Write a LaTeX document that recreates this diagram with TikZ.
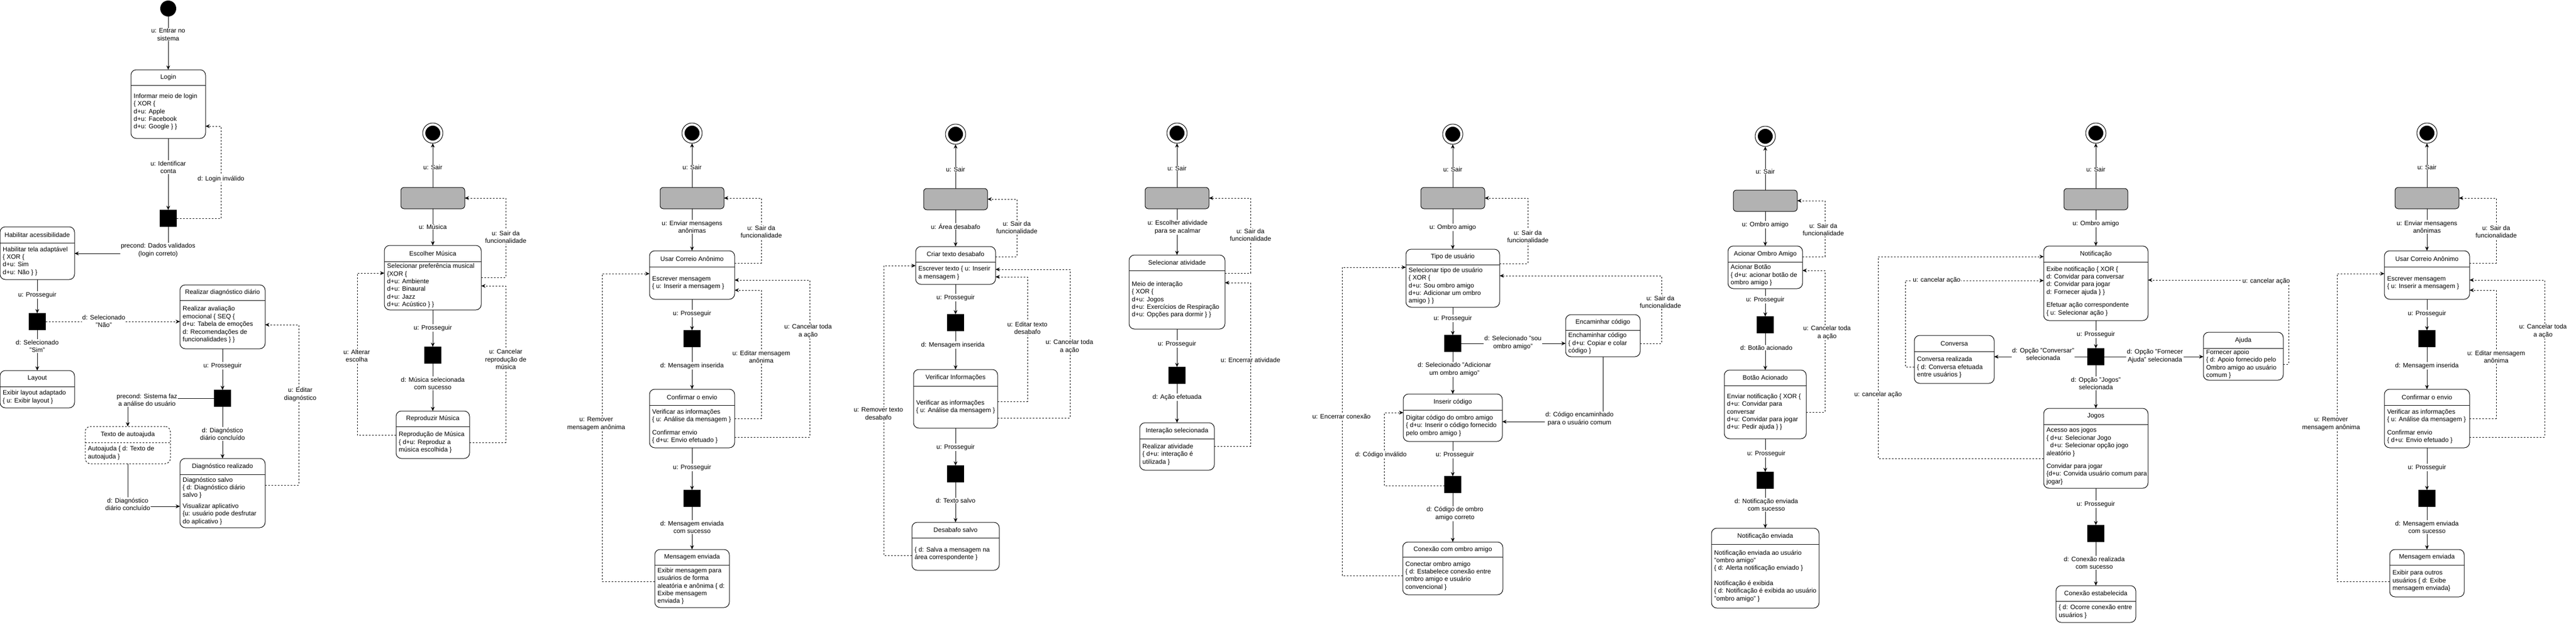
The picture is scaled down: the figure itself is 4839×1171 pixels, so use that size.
\documentclass[tikz,border=0pt]{standalone}
\usepackage{fontspec}
\setmainfont{Liberation Sans}
\usetikzlibrary{arrows.meta}

\tikzset{
  estado/.style={draw, rounded corners=10pt, line width=1pt, inner sep=0pt, outer sep=0pt},
  titulo/.style={font=\fontsize{12}{14.4}\selectfont, inner sep=0pt},
  corpo/.style={font=\fontsize{12}{14.4}\selectfont, align=left, inner sep=0pt, anchor=west},
  menu/.style={draw, fill=black!30, rounded corners=6pt, line width=1pt, minimum width=120, minimum height=40, outer sep=0pt},
  decisao/.style={draw, fill=black, minimum size=31, inner sep=0pt, outer sep=0pt},
  inicio/.style={circle, fill=black, minimum size=30, inner sep=0pt, outer sep=0pt},
  fim/.style={circle, draw, line width=1pt, minimum size=38, inner sep=0pt, outer sep=0pt,
    path picture={\fill[black] (path picture bounding box.center) circle (14pt);}},
  seta/.style={line width=1pt, -{Stealth[length=8pt, width=7pt]}},
  tracejada/.style={seta, dash pattern=on 3pt off 3pt},
  lbl/.style={fill=white, font=\fontsize{12}{14.4}\selectfont, align=center, inner sep=1pt}
}

%% caixa de estado: [opcoes]{nome}{x1}{y1}{x2}{y2}{y divisoria}{titulo}{corpo}
\newcommand{\estado}[9][]{%
  \node[estado, #1, anchor=north west, minimum width={(#5)-(#3)}, minimum height={(#6)-(#4)}] (#2) at (#3,#4) {};
  \draw[line width=1pt, #1] (#3,#7) -- (#5,#7);
  \node[titulo] (#2-t) at ({((#3)+(#5))/2},{((#4)+(#7))/2}) {#8};
  \node[corpo] (#2-c) at ({(#3)+5},{((#7)+(#6))/2}) {#9};
}

\begin{document}
\begin{tikzpicture}[x=1pt, y=-1pt]
\useasboundingbox (0,0) rectangle (4839,1171);

%% Login
\node[inicio] (inicio) at (316,16) {};
\estado{login}{246}{131}{386}{260}{160}{Login}{Informar meio de login\\\{ XOR \{\\d+u: Apple\\d+u: Facebook\\d+u: Google \} \}}
\node[decisao] (decLogin) at (316,410) {};
\estado{acess}{0}{426}{140}{525}{456}{Habilitar acessibilidade}{Habilitar tela adaptável\\\{ XOR \{\\d+u: Sim\\d+u: Não \} \}}
\node[decisao] (decAcess) at (70,604) {};
\estado{layout}{0}{696}{140}{766}{726}{Layout}{Exibir layout adaptado\\\{ u: Exibir layout \}}
\estado{diag}{338}{535}{498}{655}{564}{Realizar diagnóstico diário}{Realizar avaliação\\emocional \{ SEQ \{\\d+u: Tabela de emoções\\d: Recomendações de\\funcionalidades \} \}}
\node[decisao] (decDiag) at (418,748) {};
\estado[dashed]{autoajuda}{160}{801}{320}{871}{831}{Texto de autoajuda}{Autoajuda \{ d: Texto de\\autoajuda \}}
\estado{diagFeito}{338}{861}{498}{991}{891}{Diagnóstico realizado}{Diagnóstico salvo\\\{ d: Diagnóstico diário\\salvo \}\\[6pt]Visualizar aplicativo\\\{u: usuário pode desfrutar\\do aplicativo \}}

\draw[seta] (inicio) -- (login) node[lbl] at (316,65) {u: Entrar no\\sistema};
\draw[seta] (login) -- (decLogin) node[lbl] at (316,314) {u: Identificar\\conta};
\draw[tracejada] (decLogin.east) -| (415,237) -- (login.east |- 0,237) node[lbl] at (415,336) {d: Login inválido};
\draw[seta] (decLogin.south) |- (acess.east |- 0,476) node[lbl] at (297,470) {precond: Dados validados\\(login correto)};
\draw[seta] (acess) -- (decAcess) node[lbl] at (70,554) {u: Prosseguir};
\draw[seta] (decAcess) -- (layout) node[lbl] at (70,650) {d: Selecionado\\"Sim"};
\draw[tracejada] (decAcess) -- (diag.west |- decAcess) node[lbl] at (195,603) {d: Selecionado\\"Não"};
\draw[seta] (diag) -- (decDiag) node[lbl] at (418,687) {u: Prosseguir};
\draw[seta] (decDiag.west) -| (autoajuda.north) node[lbl] at (276,751) {precond: Sistema faz\\a análise do usuário};
\draw[seta] (decDiag) -- (diagFeito) node[lbl] at (418,815) {d: Diagnóstico\\diário concluído};
\draw[seta] (autoajuda.south) |- (diagFeito.west |- 0,951) node[lbl] at (240,947) {d: Diagnóstico\\diário concluído};
\draw[tracejada] (diagFeito.east |- 0,911) -| (561,610) -- (diag.east |- 0,610) node[lbl] at (564,741) {u: Editar\\diagnóstico};

%% Musica
\node[fim] (musFim) at (813,250) {};
\node[menu] (musMenu) at (813,372) {};
\estado{musEsc}{722}{461}{904}{582}{491}{Escolher Música}{Selecionar preferência musical\\\{XOR \{\\d+u: Ambiente\\d+u: Binaural\\d+u: Jazz\\d+u: Acústico \} \}}
\node[decisao] (musDec) at (813,667) {};
\estado{musRep}{744}{772}{882}{861}{801}{Reproduzir Música}{Reprodução de Música\\\{ d+u: Reproduz a\\música escolhida \}}

\draw[seta] (musMenu) -- (musFim) node[lbl] at (813,314) {u: Sair};
\draw[seta] (musMenu) -- (musEsc) node[lbl] at (813,426) {u: Música};
\draw[tracejada] (musEsc.east |- 0,521) -| (950,372) -- (musMenu.east) node[lbl] at (950,445) {u: Sair da\\funcionalidade};
\draw[seta] (musEsc) -- (musDec) node[lbl] at (813,616) {u: Prosseguir};
\draw[seta] (musDec) -- (musRep) node[lbl] at (813,720) {d: Música selecionada\\com sucesso};
\draw[tracejada] (musRep.west |- 0,817) -| (671,513) -- (musEsc.west |- 0,513) node[lbl] at (670,668) {u: Alterar\\escolha};
\draw[tracejada] (musRep.east |- 0,831) -| (950,537) -- (musEsc.east |- 0,537) node[lbl] at (950,675) {u: Cancelar\\reprodução de\\música};

%% Correio anonimo (duas vezes)
\foreach \dx/\p/\yb/\txt in {0/cA/1141/{Exibir mensagem para\\usuários de forma\\aleatória e anônima \{ d:\\Exibe mensagem\\enviada \}},
                              3259/cB/1121/{Exibir para outros\\usuários \{ d: Exibe\\mensagem enviada\}}}{
\begin{scope}[xshift=\dx]
\node[fim] (\p-fim) at (1300,250) {};
\node[menu] (\p-menu) at (1300,372) {};
\estado{\p-usar}{1220}{471}{1380}{562}{501}{Usar Correio Anônimo}{Escrever mensagem\\\{ u: Inserir a mensagem \}}
\node[decisao] (\p-dec1) at (1300,636) {};
\estado{\p-conf}{1220}{731}{1380}{841}{761}{Confirmar o envio}{Verificar as informações\\\{ u: Análise da mensagem \}\\[10pt]Confirmar envio\\\{ d+u: Envio efetuado \}}
\node[decisao] (\p-dec2) at (1300,936) {};
\estado{\p-env}{1230}{1032}{1370}{\yb}{1061}{Mensagem enviada}{\txt}

\draw[seta] (\p-menu) -- (\p-fim) node[lbl] at (1300,314) {u: Sair};
\draw[seta] (\p-menu) -- (\p-usar) node[lbl] at (1300,426) {u: Enviar mensagens\\anônimas};
\draw[tracejada] (\p-usar.east |- 0,494) -| (1430,372) -- (\p-menu.east) node[lbl] at (1430,435) {u: Sair da\\funcionalidade};
\draw[seta] (\p-usar) -- (\p-dec1) node[lbl] at (1300,589) {u: Prosseguir};
\draw[seta] (\p-dec1) -- (\p-conf) node[lbl] at (1300,687) {d: Mensagem inserida};
\draw[tracejada] (\p-conf.east |- 0,786) -| (1430,545) -- (\p-usar.east |- 0,545) node[lbl] at (1430,670) {u: Editar mensagem\\anônima};
\draw[tracejada] (\p-conf.east |- 0,821) -| (1521,526) -- (\p-usar.east |- 0,526) node[lbl] at (1518,622) {u: Cancelar toda\\a ação};
\draw[seta] (\p-conf) -- (\p-dec2) node[lbl] at (1300,878) {u: Prosseguir};
\draw[seta] (\p-dec2) -- (\p-env) node[lbl] at (1300,990) {d: Mensagem enviada\\com sucesso};
\draw[tracejada] (\p-env.west |- 0,1092) -| (1131,514) -- (\p-usar.west |- 0,514) node[lbl] at (1120,796) {u: Remover\\mensagem anônima};
\end{scope}}

%% Desabafo
\node[fim] (desFim) at (1795,252) {};
\node[menu] (desMenu) at (1795,374) {};
\estado{desCriar}{1720}{463}{1870}{534}{492}{Criar texto desabafo}{Escrever texto \{ u: Inserir\\a mensagem \}}
\node[decisao] (desDec1) at (1795,606) {};
\estado{desVer}{1716}{694}{1874}{804}{725}{Verificar Informações}{Verificar as informações\\\{ u: Análise da mensagem \}}
\node[decisao] (desDec2) at (1795,890) {};
\estado{desSalvo}{1713}{981}{1877}{1071}{1010}{Desabafo salvo}{\{ d: Salva a mensagem na\\área correspondente \}}

\draw[seta] (desMenu) -- (desFim) node[lbl] at (1795,318) {u: Sair};
\draw[seta] (desMenu) -- (desCriar) node[lbl] at (1795,425) {u: Área desabafo};
\draw[tracejada] (desCriar.east |- 0,482) -| (1910,374) -- (desMenu.east) node[lbl] at (1910,427) {u: Sair da\\funcionalidade};
\draw[seta] (desCriar) -- (desDec1) node[lbl] at (1795,559) {u: Prosseguir};
\draw[seta] (desDec1) -- (desVer) node[lbl] at (1790,648) {d: Mensagem inserida};
\draw[tracejada] (desVer.east |- 0,754) -| (1930,520) -- (desCriar.east |- 0,520) node[lbl] at (1930,616) {u: Editar texto\\desabafo};
\draw[tracejada] (desVer.east |- 0,785) -| (2010,506) -- (desCriar.east |- 0,506) node[lbl] at (2009,651) {u: Cancelar toda\\a ação};
\draw[seta] (desVer) -- (desDec2) node[lbl] at (1795,840) {u: Prosseguir};
\draw[seta] (desDec2) -- (desSalvo) node[lbl] at (1795,940) {d: Texto salvo};
\draw[tracejada] (desSalvo.west |- 0,1043) -| (1660,499) -- (desCriar.west |- 0,499) node[lbl] at (1650,777) {u: Remover texto\\desabafo};

%% Atividade
\node[fim] (atvFim) at (2211,250) {};
\node[menu] (atvMenu) at (2211,372) {};
\estado{atvSel}{2121}{479}{2301}{618}{508}{Selecionar atividade}{Meio de interação\\\{ XOR \{\\d+u: Jogos\\d+u: Exercícios de Respiração\\d+u: Opções para dormir \} \}}
\node[decisao] (atvDec) at (2211,705) {};
\estado{atvInt}{2141}{794}{2281}{883}{824}{Interação selecionada}{Realizar atividade\\\{ d+u: interação é\\utilizada \}}

\draw[seta] (atvMenu) -- (atvFim) node[lbl] at (2211,316) {u: Sair};
\draw[seta] (atvMenu) -- (atvSel) node[lbl] at (2212,427) {u: Escolher atividade\\para se acalmar};
\draw[tracejada] (atvSel.east |- 0,513) -| (2349,372) -- (atvMenu.east) node[lbl] at (2349,441) {u: Sair da\\funcionalidade};
\draw[seta] (atvSel) -- (atvDec) node[lbl] at (2211,646) {u: Prosseguir};
\draw[seta] (atvDec) -- (atvInt) node[lbl] at (2211,746) {d: Ação efetuada};
\draw[tracejada] (atvInt.east |- 0,838) -| (2349,531) -- (atvSel.east |- 0,531) node[lbl] at (2349,676) {u: Encerrar atividade};

%% Tipo de usuario
\node[fim] (tipoFim) at (2729,252) {};
\node[menu] (tipoMenu) at (2729,372) {};
\estado{tipoUsu}{2641}{468}{2817}{577}{497}{Tipo de usuário}{Selecionar tipo de usuário\\\{ XOR \{\\d+u: Sou ombro amigo\\d+u: Adicionar um ombro\\amigo \} \}}
\node[decisao] (tipoDec1) at (2729,645) {};
\estado{encCod}{2941}{591}{3081}{670}{620}{Encaminhar código}{Enchaminhar código\\\{ d+u: Copiar e colar\\código \}}
\estado{insCod}{2636}{740}{2822}{829}{770}{Inserir código}{Digitar código do ombro amigo\\\{ d+u: Inserir o código fornecido\\pelo ombro amigo \}}
\node[decisao] (tipoDec2) at (2729,910) {};
\estado{conOmb}{2635}{1018}{2823}{1117}{1046}{Conexão com ombro amigo}{Conectar ombro amigo\\\{ d: Estabelece conexão entre\\ombro amigo e usuário\\convencional \}}

\draw[seta] (tipoMenu) -- (tipoFim) node[lbl] at (2729,318) {u: Sair};
\draw[seta] (tipoMenu) -- (tipoUsu) node[lbl] at (2729,427) {u: Ombro amigo};
\draw[tracejada] (tipoUsu.east |- 0,495) -| (2870,372) -- (tipoMenu.east) node[lbl] at (2870,444) {u: Sair da\\funcionalidade};
\draw[seta] (tipoUsu) -- (tipoDec1) node[lbl] at (2729,598) {u: Prosseguir};
\draw[seta] (tipoDec1) -- (encCod.west |- tipoDec1) node[lbl] at (2842,644) {d: Selecionado "sou\\ombro amigo"};
\draw[tracejada] (encCod.east |- 0,645) -| (3121,518) -- (tipoUsu.east |- 0,518) node[lbl] at (3119,567) {u: Sair da\\funcionalidade};
\draw[seta] (tipoDec1) -- (insCod) node[lbl] at (2732,694) {d: Selecionado "Adicionar\\um ombro amigo"};
\draw[seta] (encCod.south) |- (insCod.east |- 0,792) node[lbl] at (2967,787) {d: Código encaminhado\\para o usuário comum};
\draw[seta] (insCod) -- (tipoDec2) node[lbl] at (2733,854) {u: Prosseguir};
\draw[tracejada] (tipoDec2.west |- 0,912) -| (2600,775) -- (insCod.west |- 0,775) node[lbl] at (2594,854) {d: Código inválido};
\draw[seta] (tipoDec2) -- (conOmb) node[lbl] at (2733,965) {d: Código de ombro\\amigo correto};
\draw[tracejada] (conOmb.west |- 0,1081) -| (2521,502) -- (tipoUsu.west |- 0,502) node[lbl] at (2520,782) {u: Encerrar conexão};

%% Acionar ombro amigo
\node[fim] (acoFim) at (3316,256) {};
\node[menu] (acoMenu) at (3316,377) {};
\estado{acoBox}{3246}{462}{3386}{542}{492}{Acionar Ombro Amigo}{Acionar Botão\\\{ d+u: acionar botão de\\ombro amigo \}}
\node[decisao] (acoDec1) at (3316,610) {};
\estado{acoBot}{3239}{695}{3393}{824}{724}{Botão Acionado}{Enviar notificação \{ XOR \{\\d+u: Convidar para\\conversar\\d+u: Convidar para jogar\\d+u: Pedir ajuda \} \}}
\node[decisao] (acoDec2) at (3316,902) {};
\estado{acoNot}{3215}{992}{3417}{1142}{1022}{Notificação enviada}{Notificação enviada ao usuário\\"ombro amigo"\\\{ d: Alerta notificação enviado \}\\[14pt]Notificação é exibida\\\{ d: Notificação é exibida ao usuário\\"ombro amigo" \}}

\draw[seta] (acoMenu) -- (acoFim) node[lbl] at (3316,322) {u: Sair};
\draw[seta] (acoMenu) -- (acoBox) node[lbl] at (3316,422) {u: Ombro amigo};
\draw[tracejada] (acoBox.east |- 0,482) -| (3428,377) -- (acoMenu.east) node[lbl] at (3425,431) {u: Sair da\\funcionalidade};
\draw[seta] (acoBox) -- (acoDec1) node[lbl] at (3316,563) {u: Prosseguir};
\draw[seta] (acoDec1) -- (acoBot) node[lbl] at (3318,653) {d: Botão acionado};
\draw[tracejada] (acoBot.east |- 0,774) -| (3428,508) -- (acoBox.east |- 0,508) node[lbl] at (3432,625) {u: Cancelar toda\\a ação};
\draw[seta] (acoBot) -- (acoDec2) node[lbl] at (3318,852) {u: Prosseguir};
\draw[seta] (acoDec2) -- (acoNot) node[lbl] at (3318,948) {d: Notificação enviada\\com sucesso};

%% Notificacao
\node[fim] (notFim) at (3937,250) {};
\node[menu] (notMenu) at (3937,374) {};
\estado{notBox}{3839}{462}{4035}{602}{492}{Notificação}{Exibe notificação \{ XOR \{\\d: Convidar para conversar\\d: Convidar para jogar\\d: Fornecer ajuda \} \}\\[10pt]Efetuar ação correspondente\\\{ u: Selecionar ação \}}
\node[decisao] (notDec1) at (3937,670) {};
\estado{conversa}{3596}{630}{3746}{720}{660}{Conversa}{Conversa realizada\\\{ d: Conversa efetuada\\entre usuários \}}
\estado{ajuda}{4139}{624}{4289}{714}{654}{Ajuda}{Fornecer apoio\\\{ d: Apoio fornecido pelo\\Ombro amigo ao usuário\\comum \}}
\estado{jogos}{3839}{767}{4035}{917}{797}{Jogos}{Acesso aos jogos\\\{ d+u: Selecionar Jogo\\\hspace*{7pt}d+u: Selecionar opção jogo\\aleatório \}\\[10pt]Convidar para jogar\\\{d+u: Convida usuário comum para\\jogar\}}
\node[decisao] (notDec2) at (3937,1002) {};
\estado{conEst}{3862}{1100}{4012}{1169}{1129}{Conexão estabelecida}{\{ d: Ocorre conexão entre\\usuários \}}

\draw[seta] (notMenu) -- (notFim) node[lbl] at (3937,318) {u: Sair};
\draw[seta] (notMenu) -- (notBox) node[lbl] at (3937,420) {u: Ombro amigo};
\draw[seta] (notBox) -- (notDec1) node[lbl] at (3937,628) {u: Prosseguir};
\draw[seta] (notDec1) -- (conversa.east |- notDec1) node[lbl] at (3838,665) {d: Opção "Conversar"\\selecionada};
\draw[seta] (notDec1) -- (ajuda.west |- notDec1) node[lbl] at (4048,669) {d: Opção "Fornecer\\Ajuda" selecionada};
\draw[seta] (notDec1) -- (jogos) node[lbl] at (3937,720) {d: Opção "Jogos"\\selecionada};
\draw[tracejada] (conversa.west |- 0,689) -| (3579,527) -- (notBox.west |- 0,527) node[lbl] at (3638,526) {u: cancelar ação};
\draw[tracejada] (ajuda.east |- 0,684) -| (4299,526) -- (notBox.east |- 0,526) node[lbl] at (4257,528) {u: cancelar ação};
\draw[tracejada] (jogos.west |- 0,861) -| (3528,482) -- (notBox.west |- 0,482) node[lbl] at (3528,741) {u: cancelar ação};
\draw[seta] (jogos) -- (notDec2) node[lbl] at (3937,947) {u: Prosseguir};
\draw[seta] (notDec2) -- (conEst) node[lbl] at (3934,1057) {d: Conexão realizada\\com sucesso};
\end{tikzpicture}
\end{document}
